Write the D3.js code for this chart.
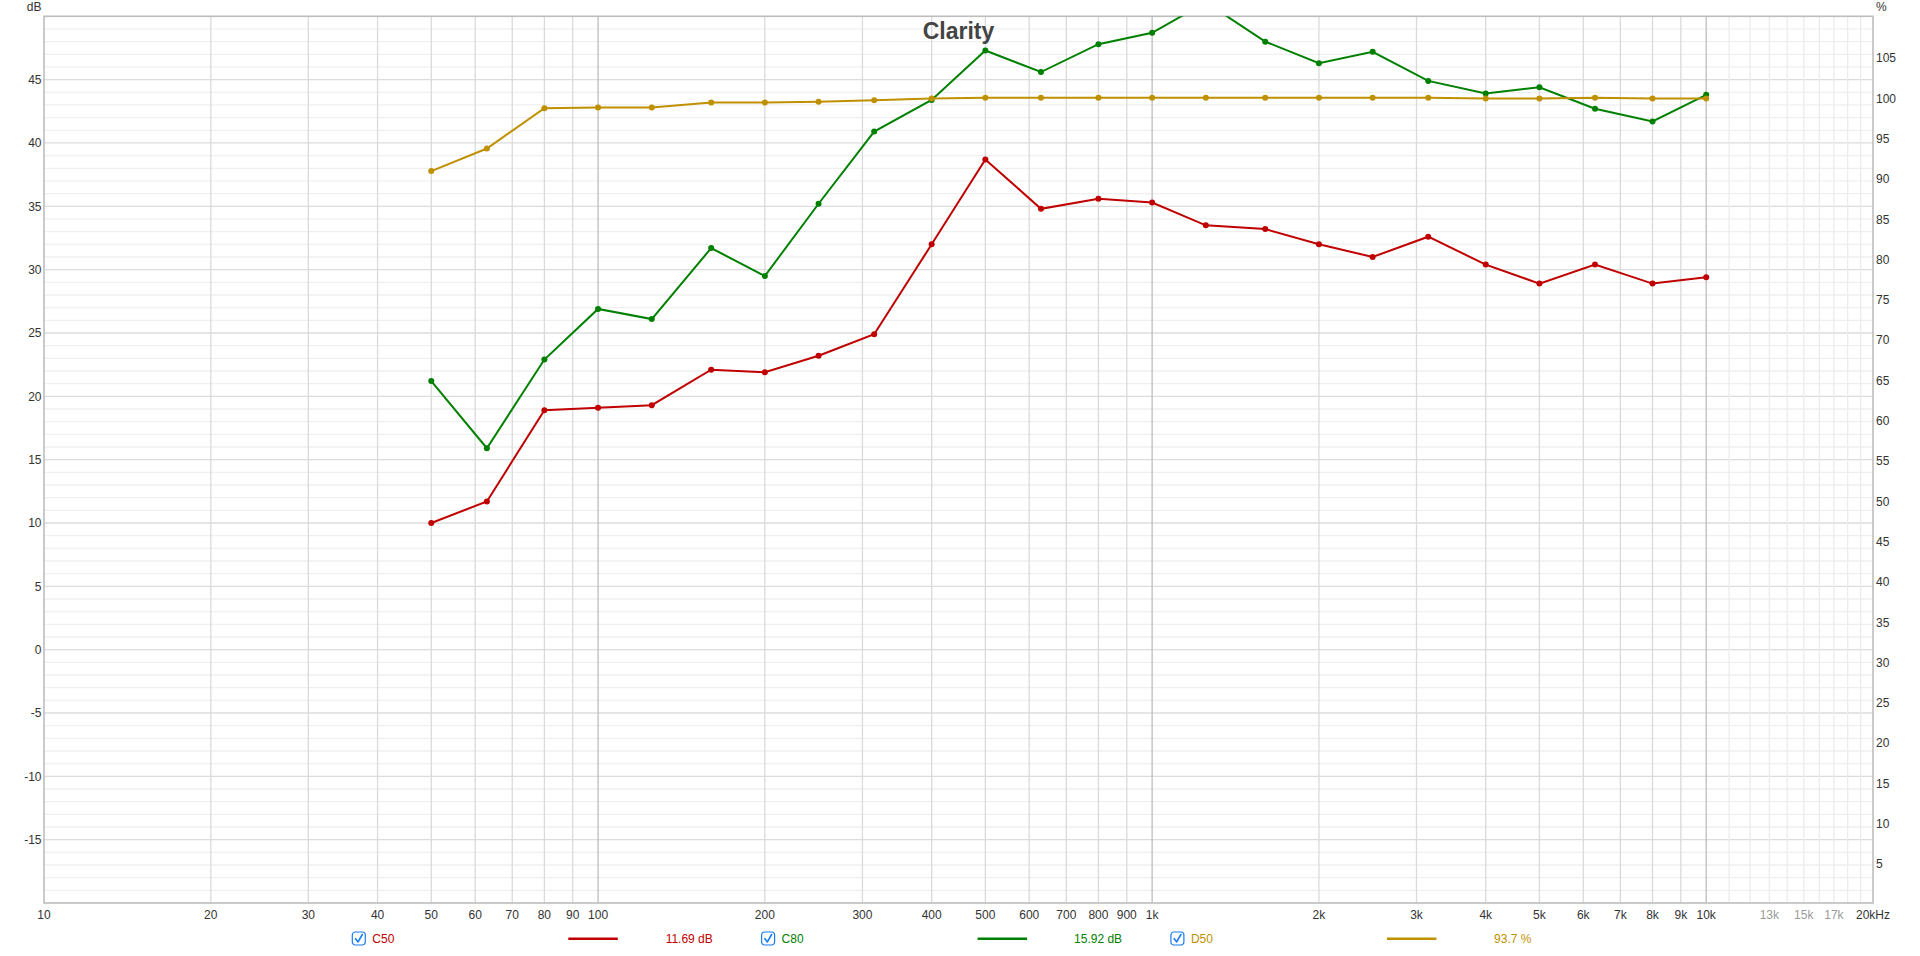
<!DOCTYPE html>
<html>
<head>
<meta charset="utf-8">
<script src="https://cdn.jsdelivr.net/npm/d3@7"></script>
<style>
  body { margin: 0; background: #fff; }
  svg { display: block; font-family: "Liberation Sans", Arial, Helvetica, sans-serif; }
</style>
</head>
<body>
<div id="chart-container"></div>
<script>
// 1/3 octave band centres (Hz)
const freqs = [50, 63, 80, 100, 125, 160, 200, 250, 315, 400, 500, 630, 800, 1000,
  1250, 1600, 2000, 2500, 3150, 4000, 5000, 6300, 8000, 10000];
// C50 / C80 in dB, D50 in %
const c50 = [10.0, 11.7, 18.9, 19.1, 19.3, 22.1, 21.9, 23.2, 24.9, 32.0, 38.7, 34.8,
  35.6, 35.3, 33.5, 33.2, 32.0, 31.0, 32.6, 30.4, 28.9, 30.4, 28.9, 29.4];
const c80 = [21.2, 15.9, 22.9, 26.9, 26.1, 31.7, 29.5, 35.2, 40.9, 43.4, 47.3, 45.6,
  47.8, 48.7, 51.1, 48.0, 46.3, 47.2, 44.9, 43.9, 44.4, 42.7, 41.7, 43.8];
const d50 = [90.8, 93.6, 98.6, 98.7, 98.7, 99.3, 99.3, 99.4, 99.6, 99.8, 99.9, 99.9,
  99.9, 99.9, 99.9, 99.9, 99.9, 99.9, 99.9, 99.8, 99.8, 99.9, 99.8, 99.8];

const seriesNames = ["C50", "C80", "D50"];
const seriesColors = ["#c00000", "#008000", "#bf9000"];
const seriesAxis = ["dB", "dB", "%"];
const legendValues = ["11.69 dB", "15.92 dB", "93.7 %"];

// axis ticks
const xGridTicks = [20, 30, 40, 50, 60, 70, 80, 90, 100, 200, 300, 400, 500, 600, 700, 800, 900,
  1000, 2000, 3000, 4000, 5000, 6000, 7000, 8000, 9000, 10000];
const xFaintTicks = [11000, 12000, 13000, 14000, 15000, 16000, 17000, 18000, 19000];
const xDecades = [100, 1000, 10000];
const xLabels = [10, 20, 30, 40, 50, 60, 70, 80, 90, 100, 200, 300, 400, 500, 600, 700, 800, 900,
  1000, 2000, 3000, 4000, 5000, 6000, 7000, 8000, 9000, 10000, 13000, 15000, 17000, 20000];
const xFaintLabels = [13000, 15000, 17000];
const dbLabels = [-15, -10, -5, 0, 5, 10, 15, 20, 25, 30, 35, 40, 45];
const pctLabels = [5, 10, 15, 20, 25, 30, 35, 40, 45, 50, 55, 60, 65, 70, 75, 80, 85, 90, 95, 100, 105];

const width = 1920;
const height = 956;
const margin = { top: 16.3, left: 44, right: 47, bottom: 53 };

const svg = d3.select("#chart-container").append("svg")
  .attr("width", width)
  .attr("height", height);

const x = d3.scaleLog()
  .domain([10, 20000])
  .range([margin.left, width - margin.right]);

const yDb = d3.scaleLinear()
  .domain([-20, 50])
  .range([height - margin.bottom, margin.top]);

const yPct = d3.scaleLinear()
  .domain([0, 110])
  .range([height - margin.bottom, margin.top]);

const x0 = margin.left, x1 = width - margin.right;
const y0 = margin.top, y1 = height - margin.bottom;

let grid = svg.append("g");

// horizontal grid, 1 dB minor, 5 dB major
grid.selectAll(".hminor")
  .data(d3.range(-19, 50))
  .enter().append("line")
  .attr("x1", x0).attr("x2", x1)
  .attr("y1", d => yDb(d)).attr("y2", d => yDb(d))
  .attr("stroke", d => d % 5 === 0 ? "#dcdcdc" : "#efefef")
  .attr("stroke-width", 1.3);

// vertical grid
grid.selectAll(".vfaint")
  .data(xFaintTicks)
  .enter().append("line")
  .attr("x1", d => x(d)).attr("x2", d => x(d))
  .attr("y1", y0).attr("y2", y1)
  .attr("stroke", "#ececec")
  .attr("stroke-width", 1.3);

grid.selectAll(".vgrid")
  .data(xGridTicks)
  .enter().append("line")
  .attr("x1", d => x(d)).attr("x2", d => x(d))
  .attr("y1", y0).attr("y2", y1)
  .attr("stroke", d => xDecades.includes(d) ? "#bdbdbd" : "#dadada")
  .attr("stroke-width", 1.3);

// plot frame
svg.append("rect")
  .attr("x", x0).attr("y", y0)
  .attr("width", x1 - x0).attr("height", y1 - y0)
  .attr("fill", "none")
  .attr("stroke", "#bdbdbd")
  .attr("stroke-width", 1.6);

// axis labels
let labels = svg.append("g").style("font-size", "12px").attr("fill", "#333");

labels.selectAll(".xl")
  .data(xLabels)
  .enter().append("text")
  .attr("x", d => x(d))
  .attr("y", y1 + 16)
  .attr("text-anchor", "middle")
  .attr("fill", d => xFaintLabels.includes(d) ? "#9a9a9a" : "#333")
  .text(d => d === 20000 ? "20kHz" : (d >= 1000 ? (d / 1000) + "k" : d));

labels.selectAll(".yl")
  .data(dbLabels)
  .enter().append("text")
  .attr("x", x0 - 2.5)
  .attr("y", d => yDb(d))
  .attr("dy", "0.35em")
  .attr("text-anchor", "end")
  .text(d => d);

labels.selectAll(".pl")
  .data(pctLabels)
  .enter().append("text")
  .attr("x", x1 + 3)
  .attr("y", d => yPct(d) + 1.5)
  .attr("dy", "0.35em")
  .attr("text-anchor", "start")
  .text(d => d);

labels.append("text")
  .attr("x", x0 - 2.5).attr("y", 11)
  .attr("text-anchor", "end")
  .text("dB");

labels.append("text")
  .attr("x", x1 + 3).attr("y", 11)
  .text("%");

// series
svg.append("clipPath").attr("id", "plotClip")
  .append("rect")
  .attr("x", x0).attr("y", y0)
  .attr("width", x1 - x0).attr("height", y1 - y0);

const allValues = [c50, c80, d50];
let g = svg.append("g").attr("clip-path", "url(#plotClip)");

allValues.forEach((vals, i) => {
  const yScale = seriesAxis[i] === "%" ? yPct : yDb;
  const pts = freqs.map((f, j) => ({ f: f, v: vals[j] }));
  const line = d3.line().x(d => x(d.f)).y(d => yScale(d.v));

  g.append("path")
    .datum(pts)
    .attr("d", line)
    .attr("fill", "none")
    .attr("stroke", seriesColors[i])
    .attr("stroke-width", 2);

  g.selectAll(".dot" + i)
    .data(pts)
    .enter().append("circle")
    .attr("cx", d => x(d.f))
    .attr("cy", d => yScale(d.v))
    .attr("r", 3)
    .attr("fill", seriesColors[i]);
});

// title
svg.append("text")
  .attr("x", (x0 + x1) / 2)
  .attr("y", 39)
  .attr("text-anchor", "middle")
  .attr("font-size", "23px")
  .attr("font-weight", "bold")
  .attr("fill", "#444")
  .text("Clarity");

// legend
const legendY = 938.5;
const legendStart = 352.3;
const legendStep = 409.3;
let legend = svg.append("g").style("font-size", "12px");

seriesNames.forEach((name, i) => {
  const lx = legendStart + i * legendStep;
  const item = legend.append("g").attr("transform", `translate(${lx},${legendY})`);

  item.append("rect")
    .attr("x", 0).attr("y", -6.5)
    .attr("width", 13).attr("height", 13)
    .attr("rx", 3)
    .attr("fill", "#fff")
    .attr("stroke", "#1a7cf5")
    .attr("stroke-width", 1.2);
  item.append("path")
    .attr("d", "M3.3,0.2 L5.8,3.4 L10,-4")
    .attr("fill", "none")
    .attr("stroke", "#1a7cf5")
    .attr("stroke-width", 1.6)
    .attr("stroke-linecap", "round")
    .attr("stroke-linejoin", "round");

  item.append("text")
    .attr("x", 20).attr("y", 4.3)
    .attr("fill", seriesColors[i])
    .text(name);

  item.append("line")
    .attr("x1", 216).attr("x2", 265.5)
    .attr("y1", 0.3).attr("y2", 0.3)
    .attr("stroke", seriesColors[i])
    .attr("stroke-width", 2.5);

  item.append("text")
    .attr("x", 360.5).attr("y", 4.3)
    .attr("text-anchor", "end")
    .attr("fill", seriesColors[i])
    .text(legendValues[i]);
});
</script>
</body>
</html>
